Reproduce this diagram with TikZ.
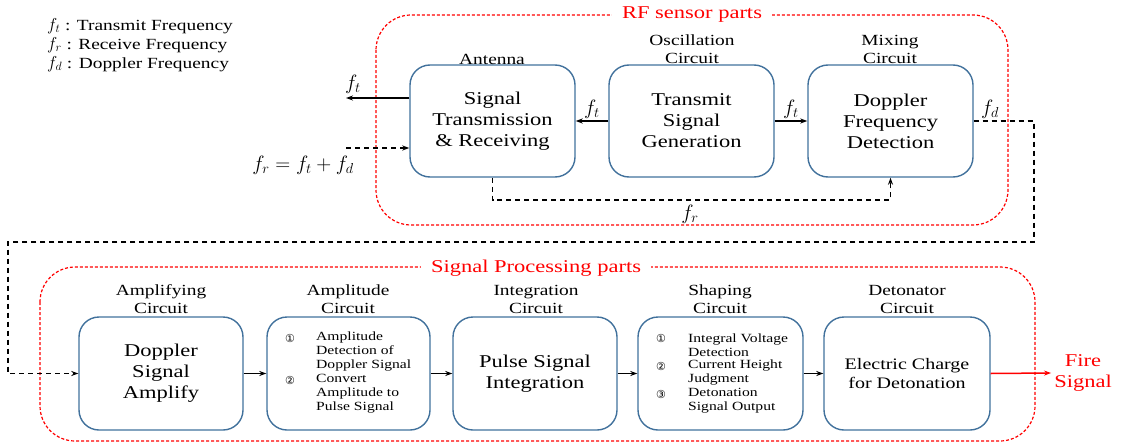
\documentclass[tikz,border=0pt]{standalone}
\usepackage{fontspec}
\setmainfont[FakeStretch=1.25]{Liberation Serif}
\newfontfamily\circfont{DejaVu Sans}
\usetikzlibrary{arrows.meta,calc}
\definecolor{boxblue}{RGB}{65,113,156}
\tikzset{
 blk/.style={draw=boxblue, line width=1.4pt, rounded corners=20pt, minimum width=165pt, minimum height=112pt, align=center, inner sep=0pt},
 hdr/.style={align=center, font=\fontsize{15.5}{18}\selectfont, inner sep=0pt},
 big/.style={font=\fontsize{18}{21}\selectfont},
 conn/.style={line width=1.3pt, -{Stealth[length=7pt,width=5pt]}},
 dconn/.style={conn, line width=1.4pt, dash pattern=on 5pt off 4pt},
 part/.style={draw=red, line width=1.2pt, dash pattern=on 3pt off 2pt, rounded corners=35pt},
 partlbl/.style={fill=white, text=red, font=\fontsize{18}{21}\selectfont, inner xsep=10pt, inner ysep=1pt},
 lst/.style={align=left, anchor=west, font=\fontsize{12.5}{14}\selectfont, inner sep=0pt},
 num/.style={font=\circfont\fontsize{11}{14}\selectfont, inner sep=0pt},
 flab/.style={font=\fontsize{21}{24}\selectfont, inner sep=0pt},
}
\begin{document}
\begin{tikzpicture}[x=1pt,y=-1pt]
\useasboundingbox (0,0) rectangle (1121,444);
% part frames
\draw[part] (376,15) rectangle (1008,225);
\node[partlbl] (rfl) at (692,15) {RF sensor parts};
\draw[part] (40,267) rectangle (1035,441);
\node[partlbl] (spl) at (536,268) {Signal Processing parts};
% legend
\node[anchor=west, align=left, font=\fontsize{15.5}{19}\selectfont, inner sep=0pt] (leg) at (47,45)
 {{\fontsize{18}{19}\selectfont$f_t$} : Transmit Frequency\\ {\fontsize{18}{19}\selectfont$f_r$} : Receive Frequency\\ {\fontsize{18}{19}\selectfont$f_d$} : Doppler Frequency};
% top boxes
\node[blk, big] (ant) at (492.5,121) {Signal\\Transmission\\\& Receiving};
\node[blk, big] (osc) at (691.5,121) {Transmit\\Signal\\Generation};
\node[blk, big] (mix) at (890.5,121) {Doppler\\Frequency\\Detection};
\node[hdr] (antl) at (492,59) {Antenna};
\node[hdr] (oscl) at (692,49) {Oscillation\\Circuit};
\node[hdr] (mixl) at (890,49) {Mixing\\Circuit};
% top connectors
\coordinate (ftend) at (346,98);
\draw[conn] (ant.west |- ftend) -- (ftend);
\node[flab] (ftl) at (353,84) {$f_t$};
\coordinate (frstart) at (346,148);
\draw[dconn] (frstart) -- (ant.west |- frstart);
\node[flab] (frl) at (303,165) {$f_r = f_t + f_d$};
\draw[conn] (osc.west) -- (ant.east);
\node[flab] (ft2) at (592,109) {$f_t$};
\draw[conn] (osc.east) -- (mix.west);
\node[flab] (ft3) at (791,109) {$f_t$};
\coordinate (frbot) at (0,200);
\draw[dconn] (ant.south) -- (ant.south |- frbot) -- (mix.south |- frbot) -- (mix.south);
\node[flab] (fr2) at (690,214) {$f_r$};
% bottom boxes
\node[blk, big, minimum width=164pt, minimum height=113pt] (amp) at (161,373.5) {Doppler\\Signal\\Amplify};
\node[blk, minimum width=163pt, minimum height=113pt] (ampc) at (348.5,373.5) {};
\node[blk, big, minimum width=164pt, minimum height=113pt] (integ) at (535,373.5) {Pulse Signal\\Integration};
\node[blk, minimum width=165pt, minimum height=113pt] (shp) at (720.5,373.5) {};
\node[blk, font=\fontsize{16}{19}\selectfont, minimum width=166pt, minimum height=113pt] (det) at (907,373.5) {Electric Charge\\for Detonation};
\node[hdr] (ampl) at (161,299.5) {Amplifying\\Circuit};
\node[hdr] (ampcl) at (348,299.5) {Amplitude\\Circuit};
\node[hdr] (integl) at (536,299.5) {Integration\\Circuit};
\node[hdr] (shpl) at (720,299.5) {Shaping\\Circuit};
\node[hdr] (detl) at (907,299.5) {Detonator\\Circuit};
% lists
\node[num] (n1) at (290,338) {①};
\node[lst] (l1) at (316,352) {Amplitude\\Detection of\\Doppler Signal};
\node[num] (n2) at (290,380) {②};
\node[lst] (l2) at (316,394) {Convert\\Amplitude to\\Pulse Signal};
\node[num] (s1) at (661,338) {①};
\node[lst] (m1) at (688,345) {Integral Voltage\\Detection};
\node[num] (s2) at (661,366) {②};
\node[lst] (m2) at (688,373) {Current Height\\Judgment};
\node[num] (s3) at (661,394) {③};
\node[lst] (m3) at (688,401) {Detonation\\Signal Output};
% f_d loop
\coordinate (c1) at (1034,242);
\coordinate (c2) at (8,242);
\draw[dconn] (mix.east) -- (mix.east -| c1) -- (c1) -- (c2) -- (c2 |- amp.west) -- (amp.west);
\node[flab] (fdl) at (990,109) {$f_d$};
% bottom connectors
\draw[conn] (amp.east) -- (ampc.west);
\draw[conn] (ampc.east) -- (integ.west);
\draw[conn] (integ.east) -- (shp.west);
\draw[conn] (shp.east) -- (det.west);
\node[text=red, big, align=center, inner sep=3pt] (fire) at (1083,373) {Fire\\Signal};
\draw[conn, red, line width=1.5pt] (det.east) -- (fire.west);
\end{tikzpicture}
\end{document}
